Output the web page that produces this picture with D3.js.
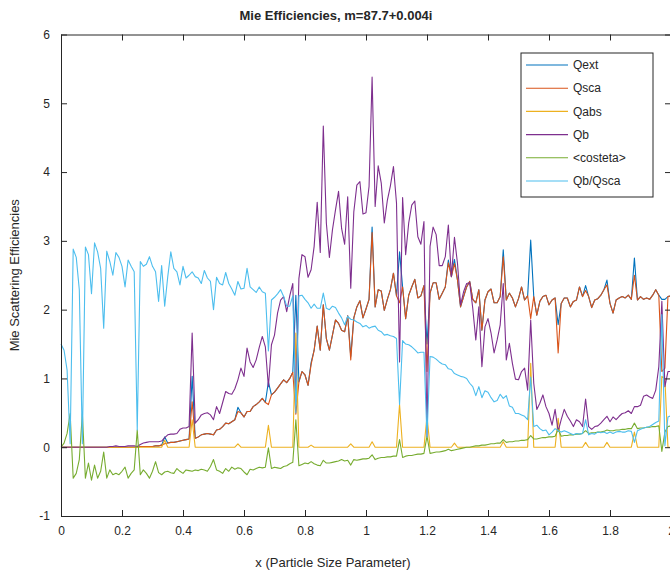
<!DOCTYPE html>
<html>
<head>
<meta charset="utf-8">
<script src="https://cdn.jsdelivr.net/npm/d3@7"></script>
<style>
  body { margin: 0; background: #fff; }
  text { font-family: "Liberation Sans", Arial, Helvetica, sans-serif; fill: #262626; }
</style>
</head>
<body>
<div id="chart"></div>
<script>
// size parameter grid, 0 .. 2 in steps of 0.01
const xValues = d3.range(201).map(i => i / 100);

const qext = [
  0,0,0,0,0,0,0,0,0,0,
  0,0,0,0,0,0,0,0,0,0,
  0,0,0,0,0,0,0.01,0.01,0.01,0.01,
  0.01,0.02,0.02,0.03,0.15,0.06,0.07,0.07,0.08,0.09,
  0.10,0.11,0.12,1.03,0.13,0.15,0.18,0.19,0.20,0.19,
  0.18,0.25,0.26,0.30,0.35,0.34,0.37,0.40,0.58,0.50,
  0.44,0.52,0.52,0.59,0.62,0.66,0.71,0.65,0.95,0.76,
  0.80,0.86,0.92,0.98,0.94,1.00,1.09,2.21,0.95,1.10,
  1.05,0.90,1.23,1.41,1.76,1.41,2.07,1.58,1.41,1.63,
  1.85,1.80,1.70,1.68,1.91,1.32,1.88,2.04,2.13,1.88,
  2.01,2.15,3.20,2.04,2.29,2.27,1.99,2.15,2.29,2.53,
  2.20,2.84,2.33,1.87,2.21,2.33,2.44,2.17,2.20,2.35,
  1.50,2.24,2.39,2.39,2.15,2.24,2.33,2.72,2.48,2.73,
  2.43,2.04,2.19,2.33,2.41,2.15,2.10,2.29,1.70,2.14,
  2.26,2.30,2.10,2.10,2.19,2.87,2.14,2.24,2.17,2.04,
  2.16,2.33,2.14,2.20,3.01,2.19,1.92,2.12,2.19,2.21,
  2.07,2.14,2.17,1.78,2.09,2.17,2.17,2.04,2.12,2.14,
  2.33,2.19,2.35,2.19,2.03,2.14,2.16,2.21,2.29,2.43,
  2.09,1.95,2.14,2.17,2.19,2.17,2.21,2.15,2.75,2.14,
  2.19,2.15,2.17,2.15,2.21,2.29,2.21,2.15,2.15,2.19,
  2.20
];

const qsca = [
  0,0,0,0,0,0,0,0,0,0,
  0,0,0,0,0,0,0,0,0,0,
  0,0,0,0,0,0,0.01,0.01,0.01,0.01,
  0.01,0.02,0.02,0.03,0.05,0.06,0.07,0.07,0.08,0.09,
  0.10,0.11,0.12,0.66,0.13,0.15,0.18,0.19,0.20,0.19,
  0.18,0.25,0.26,0.30,0.35,0.34,0.37,0.40,0.52,0.50,
  0.44,0.52,0.52,0.59,0.62,0.66,0.71,0.65,0.62,0.76,
  0.80,0.86,0.92,0.98,0.94,1.00,1.09,0.48,0.95,1.10,
  1.05,0.90,1.20,1.41,1.76,1.41,2.07,1.58,1.41,1.63,
  1.85,1.80,1.70,1.68,1.91,1.27,1.88,2.04,2.13,1.88,
  2.01,2.15,3.12,2.04,2.29,2.27,1.99,2.15,2.29,2.53,
  2.20,2.10,2.33,1.87,2.21,2.33,2.44,2.17,2.20,2.35,
  1.10,2.24,2.39,2.39,2.15,2.24,2.33,2.68,2.48,2.67,
  2.43,2.04,2.19,2.33,2.41,2.15,2.10,2.29,1.70,2.14,
  2.26,2.30,2.10,2.10,2.19,2.77,2.14,2.24,2.17,2.04,
  2.16,2.33,2.14,2.20,1.87,2.19,1.92,2.12,2.19,2.21,
  2.07,2.14,2.17,1.37,2.09,2.17,2.17,2.04,2.12,2.14,
  2.33,2.19,2.28,2.19,2.03,2.14,2.16,2.21,2.29,2.36,
  2.09,1.95,2.14,2.17,2.19,2.17,2.21,2.15,2.50,2.14,
  2.19,2.15,2.17,2.15,2.21,2.29,2.21,1.10,1.15,2.19,
  2.20
];

const qabs = [
  0,0,0,0,0,0,0,0,0,0,
  0,0,0,0,0,0,0,0,0,0,
  0,0,0,0,0,0,0,0,0,0,
  0,0,0,0,0.10,0,0,0,0,0,
  0,0,0,0.40,0,0,0,0,0,0,
  0,0,0,0,0,0,0,0,0.05,0,
  0,0,0,0,0,0,0,0,0.32,0,
  0,0,0,0,0,0,0,1.66,0,0,
  0,0,0.03,0,0,0,0,0,0,0,
  0,0,0,0,0,0.05,0,0,0,0,
  0,0,0.08,0,0,0,0,0,0,0,
  0,0.62,0,0,0,0,0,0,0,0,
  0.45,0,0,0,0,0,0,0,0,0.06,
  0,0,0,0,0,0,0,0,0,0,
  0,0,0,0,0,0.08,0,0,0,0,
  0,0,0,0,1.22,0,0,0,0,0,
  0,0,0,0.42,0,0,0,0,0,0,
  0,0,0.07,0,0,0,0,0,0,0.07,
  0,0,0,0,0,0,0,0,0.22,0,
  0,0,0,0,0,0,0,1.03,1.00,0,
  0
];

const qb = [
  0,0,0,0,0,0,0,0,0,0,
  0,0,0,0,0,0,0.01,0.01,0.02,0.01,
  0.01,0.01,0.02,0.02,0.02,0.01,0.04,0.06,0.07,0.08,
  0.08,0.08,0.08,0.09,0.14,0.18,0.19,0.19,0.20,0.26,
  0.28,0.28,0.30,1.66,0.35,0.40,0.47,0.49,0.50,0.47,
  0.40,0.59,0.49,0.65,0.81,0.78,0.77,0.85,0.98,1.15,
  1.03,1.44,1.24,1.16,1.27,1.45,1.61,1.46,0.88,1.49,
  1.63,1.95,2.14,2.19,1.97,2.20,2.38,0.66,2.45,2.80,
  2.77,2.47,2.58,2.92,3.56,2.83,4.67,3.26,2.76,3.16,
  3.45,3.72,3.18,2.95,3.64,2.31,3.42,3.81,3.86,3.39,
  3.41,3.79,5.38,3.50,4.09,3.84,3.26,3.59,3.80,4.08,
  3.55,1.24,3.63,2.80,3.26,3.52,3.58,3.06,2.95,3.28,
  0.15,2.92,3.20,3.09,2.64,2.64,2.77,3.23,2.48,3.05,
  2.67,2.07,2.26,2.38,2.39,2.02,1.56,2.04,1.17,1.75,
  1.87,1.66,1.37,1.56,1.78,2.38,1.27,1.51,1.22,0.99,
  0.98,1.10,1.15,0.83,1.85,0.93,0.55,0.64,0.76,0.59,
  0.49,0.32,0.55,0.23,0.40,0.55,0.45,0.38,0.30,0.40,
  0.37,0.30,0.70,0.30,0.26,0.30,0.31,0.35,0.40,0.45,
  0.37,0.44,0.40,0.45,0.49,0.50,0.53,0.49,0.59,0.59,
  0.61,0.74,0.76,0.73,0.71,0.83,1.17,2.12,0.88,1.10,
  1.10
];

const costeta = [
  0.00,0.06,0.20,0.49,-0.45,-0.38,-0.18,0.49,-0.45,-0.23,
  -0.48,-0.26,-0.45,-0.35,-0.07,-0.45,-0.33,-0.40,-0.38,-0.40,
  -0.35,-0.29,-0.45,-0.38,-0.33,0.25,-0.40,-0.33,-0.38,-0.45,
  -0.35,-0.21,-0.37,-0.40,-0.36,-0.35,-0.37,-0.38,-0.31,-0.35,
  -0.38,-0.33,-0.34,-0.35,-0.33,-0.34,-0.32,-0.33,-0.35,-0.28,
  -0.18,-0.33,-0.35,-0.38,-0.31,-0.35,-0.29,-0.32,-0.30,-0.31,
  -0.36,-0.40,-0.32,-0.33,-0.31,-0.29,-0.30,-0.29,-0.01,-0.31,
  -0.29,-0.30,-0.31,-0.28,-0.27,-0.24,-0.22,0.40,-0.27,-0.25,
  -0.23,-0.24,-0.21,-0.24,-0.26,-0.27,-0.19,-0.23,-0.23,-0.22,
  -0.21,-0.20,-0.18,-0.20,-0.19,-0.26,-0.18,-0.19,-0.18,-0.17,
  -0.17,-0.16,-0.11,-0.18,-0.16,-0.15,-0.15,-0.14,-0.14,-0.13,
  -0.13,0.11,-0.15,-0.13,-0.12,-0.12,-0.11,-0.10,-0.10,-0.09,
  0.16,-0.09,-0.08,-0.07,-0.07,-0.06,-0.05,-0.03,-0.05,-0.04,
  -0.03,-0.02,-0.01,0.00,0.00,0.01,0.02,0.02,0.03,0.03,
  0.04,0.05,0.05,0.06,0.06,0.11,0.07,0.08,0.08,0.09,
  0.09,0.10,0.10,0.11,0.17,0.12,0.12,0.13,0.14,0.14,
  0.15,0.15,0.16,0.26,0.16,0.17,0.17,0.18,0.18,0.19,
  0.19,0.20,0.24,0.20,0.21,0.21,0.22,0.22,0.23,0.25,
  0.24,0.24,0.25,0.25,0.26,0.26,0.27,0.27,0.35,0.27,
  0.28,0.28,0.29,0.29,0.30,0.30,0.31,-0.06,0.22,0.30,
  0.31
];

const qbOverQsca = [
  1.50,1.41,1.12,0.05,2.88,2.76,2.29,0.05,2.91,2.80,
  2.23,2.97,2.84,2.60,1.73,2.85,2.70,2.50,2.83,2.76,
  2.63,2.33,2.72,2.63,2.55,0.25,2.70,2.63,2.66,2.77,
  2.63,2.55,2.12,2.64,2.05,2.48,2.84,2.60,2.55,2.36,
  2.63,2.46,2.50,2.55,2.48,2.46,2.38,2.57,2.46,2.41,
  2.00,2.47,2.38,2.36,2.54,2.38,2.30,2.21,2.41,2.30,
  2.31,2.60,2.33,2.29,2.25,2.33,2.26,2.24,1.40,2.14,
  2.18,2.23,2.29,2.19,2.05,2.05,2.20,0.50,2.20,2.21,
  2.15,2.10,2.02,2.08,2.02,2.02,2.24,2.02,2.00,2.05,
  2.03,1.95,1.88,1.78,1.90,1.86,1.85,1.82,1.80,1.75,
  1.77,1.73,1.75,1.76,1.70,1.68,1.63,1.64,1.62,1.61,
  1.58,0.62,1.55,1.50,1.49,1.46,1.42,1.37,1.38,1.38,
  0.15,1.32,1.31,1.28,1.24,1.21,1.20,1.14,1.13,1.07,
  1.05,1.03,1.02,1.00,0.93,0.88,0.75,0.88,0.72,0.82,
  0.80,0.72,0.66,0.68,0.77,0.71,0.75,0.60,0.58,0.49,
  0.49,0.47,0.45,0.40,1.02,0.30,0.32,0.27,0.24,0.25,
  0.18,0.22,0.27,0.24,0.22,0.24,0.22,0.20,0.18,0.20,
  0.19,0.20,0.40,0.18,0.20,0.19,0.22,0.21,0.22,0.20,
  0.22,0.20,0.22,0.23,0.22,0.22,0.24,0.23,0.07,0.24,
  0.26,0.28,0.29,0.30,0.33,0.36,0.38,1.93,0.02,0.44,
  0.46
];

const seriesNames = ['Qext', 'Qsca', 'Qabs', 'Qb', '<costeta>', 'Qb/Qsca'];
const seriesValues = [qext, qsca, qabs, qb, costeta, qbOverQsca];
const seriesColors = ['#0072BD', '#D95319', '#EDB120', '#7E2F8E', '#77AC30', '#4DBEEE'];

const xTicks = [0, 0.2, 0.4, 0.6, 0.8, 1, 1.2, 1.4, 1.6, 1.8, 2];
const yTicks = [-1, 0, 1, 2, 3, 4, 5, 6];

const width = 670;
const height = 575;
const margin = { top: 34.5, left: 61, right: 0, bottom: 59 };
const plotRight = 671; // axes box runs just past the window edge

const svg = d3.select('#chart').append('svg')
  .attr('width', width)
  .attr('height', height);

svg.append('rect').attr('width', width).attr('height', height).attr('fill', '#fff');

const x = d3.scaleLinear().domain([0, 2]).range([margin.left, plotRight]);
const y = d3.scaleLinear().domain([-1, 6]).range([height - margin.bottom, margin.top]);

// series lines
const line = d3.line()
  .x((d, i) => x(xValues[i]))
  .y(d => y(d));

const plot = svg.append('g');
seriesValues.forEach((vals, k) => {
  plot.append('path')
    .datum(vals)
    .attr('d', line)
    .attr('fill', 'none')
    .attr('stroke', seriesColors[k])
    .attr('stroke-width', 1.1)
    .attr('stroke-linejoin', 'round');
});

// axes box, ticks pointing inward
const fmt = d => String(d);
const axisColor = '#262626';

const gBottom = svg.append('g')
  .attr('transform', `translate(0,${y(-1)})`)
  .call(d3.axisBottom(x).tickValues(xTicks).tickFormat(fmt).tickSizeInner(-6).tickSizeOuter(0).tickPadding(10));
const gLeft = svg.append('g')
  .attr('transform', `translate(${x(0)},0)`)
  .call(d3.axisLeft(y).tickValues(yTicks).tickFormat(fmt).tickSizeInner(-6).tickSizeOuter(0).tickPadding(11));
const gTop = svg.append('g')
  .attr('transform', `translate(0,${y(6)})`)
  .call(d3.axisTop(x).tickValues(xTicks).tickFormat('').tickSizeInner(-6).tickSizeOuter(0));
const gRight = svg.append('g')
  .attr('transform', `translate(${x(2)},0)`)
  .call(d3.axisRight(y).tickValues(yTicks).tickFormat('').tickSizeInner(-6).tickSizeOuter(0));

[gBottom, gLeft, gTop, gRight].forEach(g => {
  g.selectAll('path.domain').attr('stroke', axisColor).attr('stroke-width', 1);
  g.selectAll('.tick line').attr('stroke', axisColor).attr('stroke-width', 1);
  g.selectAll('.tick text')
    .attr('font-size', 12)
    .attr('font-family', '"Liberation Sans", Arial, sans-serif')
    .attr('fill', axisColor);
});

// titles
svg.append('text')
  .attr('x', 336).attr('y', 20)
  .attr('text-anchor', 'middle')
  .attr('font-size', 13)
  .attr('font-weight', 'bold')
  .text('Mie Efficiencies, m=87.7+0.004i');

svg.append('text')
  .attr('x', 333).attr('y', 567)
  .attr('text-anchor', 'middle')
  .attr('font-size', 13)
  .text('x (Particle Size Parameter)');

svg.append('text')
  .attr('transform', `translate(19,${(y(-1) + y(6)) / 2}) rotate(-90)`)
  .attr('text-anchor', 'middle')
  .attr('font-size', 13)
  .text('Mie Scattering Efficiencies');

// legend
const legend = svg.append('g').attr('transform', 'translate(521,53)');
legend.append('rect')
  .attr('width', 132).attr('height', 144)
  .attr('fill', '#fff')
  .attr('stroke', axisColor)
  .attr('stroke-width', 1);

seriesNames.forEach((name, k) => {
  const yy = 12 + k * 23.2;
  legend.append('line')
    .attr('x1', 5).attr('x2', 47)
    .attr('y1', yy).attr('y2', yy)
    .attr('stroke', seriesColors[k])
    .attr('stroke-width', 1.1);
  legend.append('text')
    .attr('x', 52).attr('y', yy)
    .attr('dy', '0.35em')
    .attr('font-size', 12)
    .text(name);
});
</script>
</body>
</html>
